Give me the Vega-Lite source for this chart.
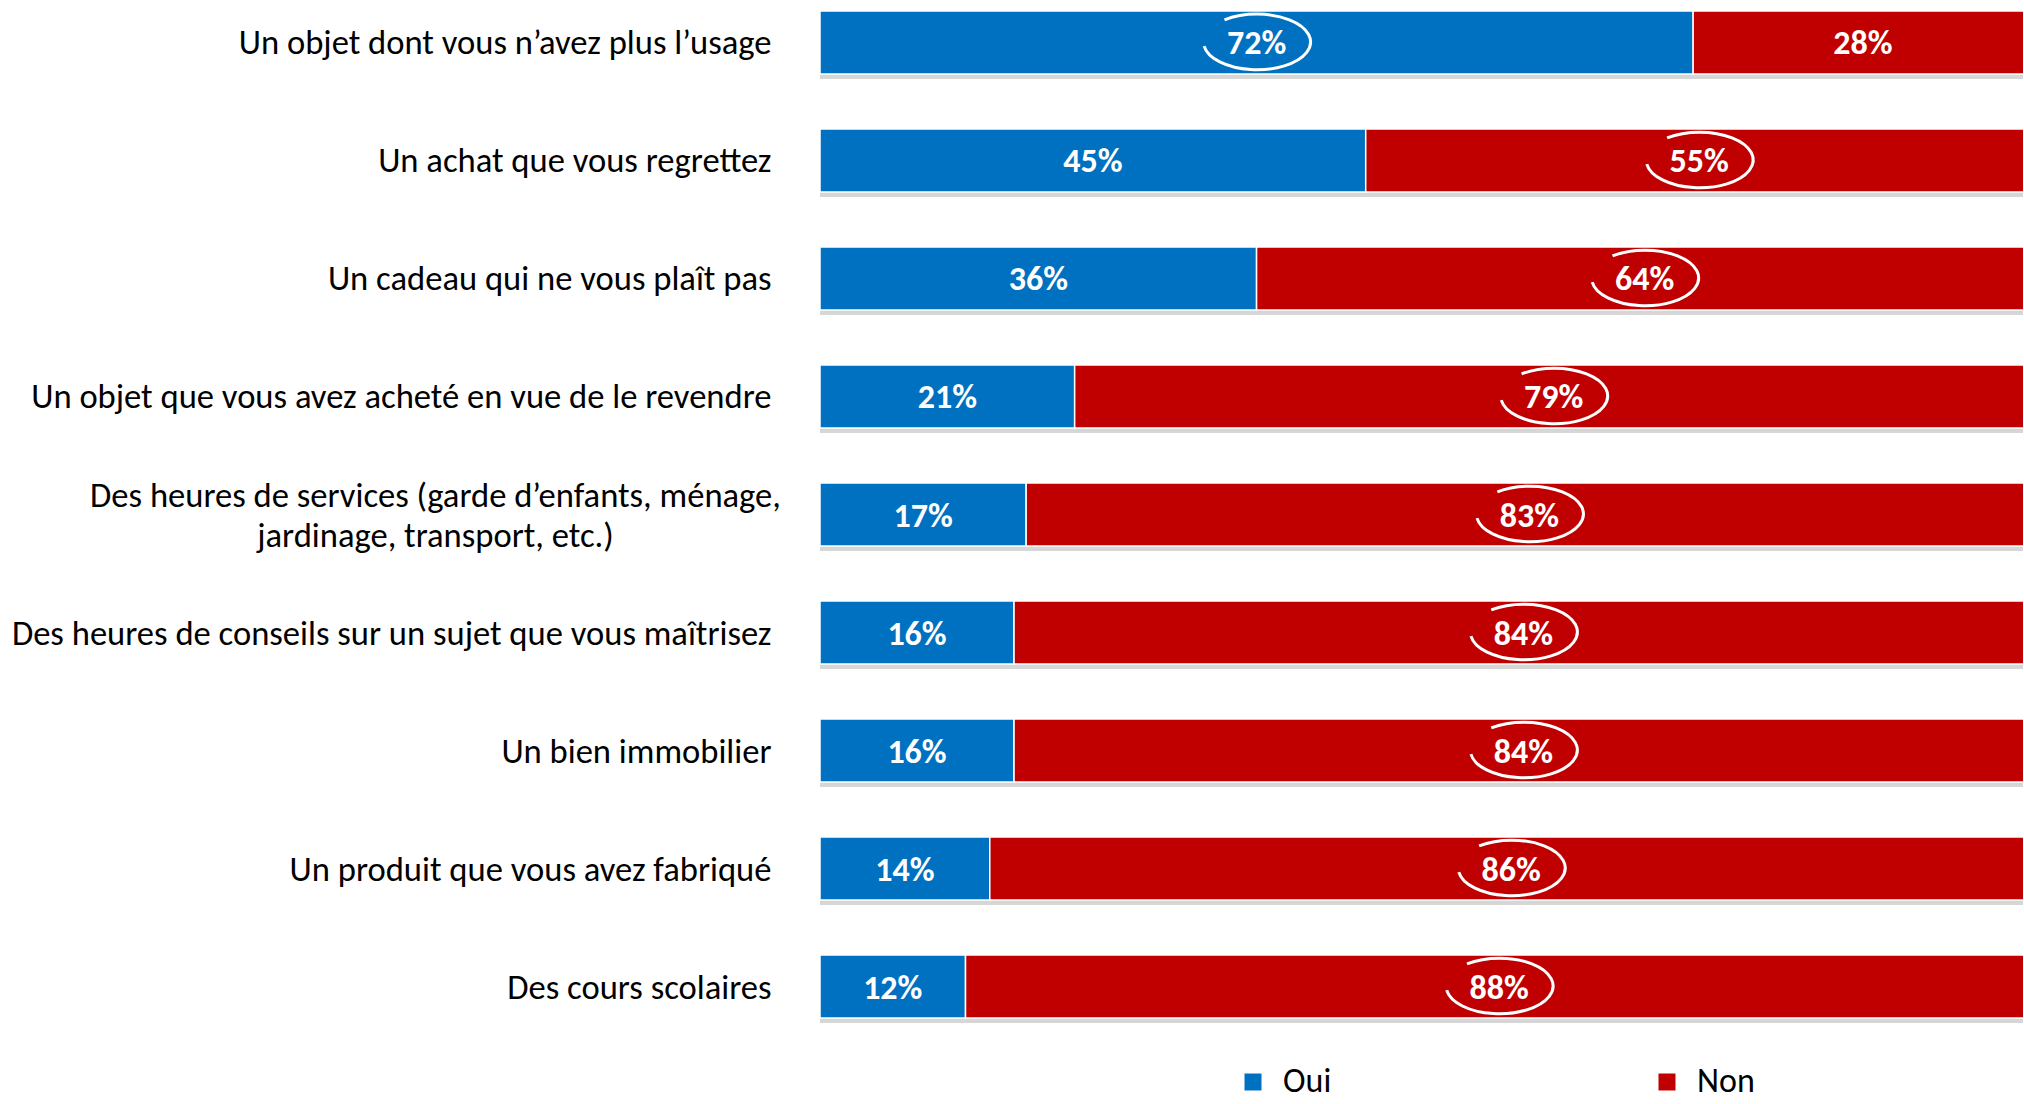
{
  "$schema": "https://vega.github.io/schema/vega-lite/v6.json",
  "autosize": {"type": "none"},
  "padding": {"left": 820, "top": 0, "right": 1, "bottom": 75},
  "width": 1203,
  "height": 1029,
  "background": "white",
  "config": {"view": {"stroke": null}, "font": "Carlito, Lato"},
  "data": {
    "values": [
      {"category": "Un objet dont vous n’avez plus l’usage", "response": "Oui", "value": 0.72},
      {"category": "Un objet dont vous n’avez plus l’usage", "response": "Non", "value": 0.28},
      {"category": "Un achat que vous regrettez", "response": "Oui", "value": 0.45},
      {"category": "Un achat que vous regrettez", "response": "Non", "value": 0.55},
      {"category": "Un cadeau qui ne vous plaît pas", "response": "Oui", "value": 0.36},
      {"category": "Un cadeau qui ne vous plaît pas", "response": "Non", "value": 0.64},
      {"category": "Un objet que vous avez acheté en vue de le revendre", "response": "Oui", "value": 0.21},
      {"category": "Un objet que vous avez acheté en vue de le revendre", "response": "Non", "value": 0.79},
      {"category": "Des heures de services (garde d’enfants, ménage,|jardinage, transport, etc.)", "response": "Oui", "value": 0.17},
      {"category": "Des heures de services (garde d’enfants, ménage,|jardinage, transport, etc.)", "response": "Non", "value": 0.83},
      {"category": "Des heures de conseils sur un sujet que vous maîtrisez", "response": "Oui", "value": 0.16},
      {"category": "Des heures de conseils sur un sujet que vous maîtrisez", "response": "Non", "value": 0.84},
      {"category": "Un bien immobilier", "response": "Oui", "value": 0.16},
      {"category": "Un bien immobilier", "response": "Non", "value": 0.84},
      {"category": "Un produit que vous avez fabriqué", "response": "Oui", "value": 0.14},
      {"category": "Un produit que vous avez fabriqué", "response": "Non", "value": 0.86},
      {"category": "Des cours scolaires", "response": "Oui", "value": 0.12},
      {"category": "Des cours scolaires", "response": "Non", "value": 0.88}
    ]
  },
  "transform": [
    {"stack": "value", "groupby": ["category"], "sort": [{"field": "response", "order": "descending"}], "as": ["v0", "v1"]},
    {"calculate": "(datum.v0 + datum.v1) / 2", "as": "mid"}
  ],
  "encoding": {
    "y": {
      "field": "category", "type": "nominal", "sort": null,
      "scale": {"paddingInner": 0.466, "paddingOuter": 0.093},
      "axis": {
        "title": null, "domain": false, "ticks": false,
        "labelExpr": "split(datum.label, '|')",
        "labelFont": "Carlito, Lato", "labelFontSize": 34.6, "labelColor": "#000000",
        "labelLineHeight": 40, "labelLimit": 1000,
        "labelAlign": {"condition": {"test": "indexof(datum.value, 'services') >= 0", "value": "center"}, "value": "right"},
        "labelPadding": {"condition": {"test": "indexof(datum.value, 'services') >= 0", "value": 385}, "value": 49},
        "labelOffset": {"condition": {"test": "indexof(datum.value, 'services') >= 0", "value": -18}, "value": 2}
      }
    }
  },
  "layer": [
    {
      "mark": {"type": "bar", "color": "#000000", "opacity": 0.16, "yOffset": 5, "clip": true},
      "encoding": {
        "x": {"field": "v0", "type": "quantitative", "scale": {"domain": [0, 0.992], "nice": false, "zero": true}, "axis": null},
        "x2": {"field": "v1"}
      }
    },
    {
      "mark": {"type": "bar", "stroke": "white", "strokeWidth": 1.5, "clip": true},
      "encoding": {
        "x": {"field": "v0", "type": "quantitative"},
        "x2": {"field": "v1"},
        "color": {
          "field": "response", "type": "nominal",
          "scale": {"domain": ["Oui", "Non"], "range": ["#0070C0", "#C00000"]},
          "legend": {
            "title": null, "orient": "none", "direction": "horizontal",
            "legendX": 416, "legendY": 1065,
            "symbolType": "square", "symbolSize": 289, "symbolStrokeWidth": 0,
            "labelFont": "Carlito, Lato", "labelFontSize": 34, "labelColor": "#000000",
            "labelOffset": 13, "columnPadding": 318
          }
        }
      }
    },
    {
      "mark": {"type": "text", "color": "white", "font": "Carlito, Lato", "fontWeight": "bold", "fontSize": 34, "baseline": "middle", "dy": 2},
      "encoding": {
        "x": {"field": "mid", "type": "quantitative"},
        "text": {"field": "value", "type": "quantitative", "format": ".0%"}
      }
    },
    {
      "transform": [{"filter": "datum.value > 0.5"}],
      "mark": {
        "type": "point", "filled": false, "color": "white", "strokeWidth": 3, "opacity": 1,
        "shape": "M -0.6 -0.46 A 1 0.52 0 1 1 -0.98 0.03",
        "size": 11449, "yOffset": 2
      },
      "encoding": {
        "x": {"field": "mid", "type": "quantitative"}
      }
    }
  ]
}
